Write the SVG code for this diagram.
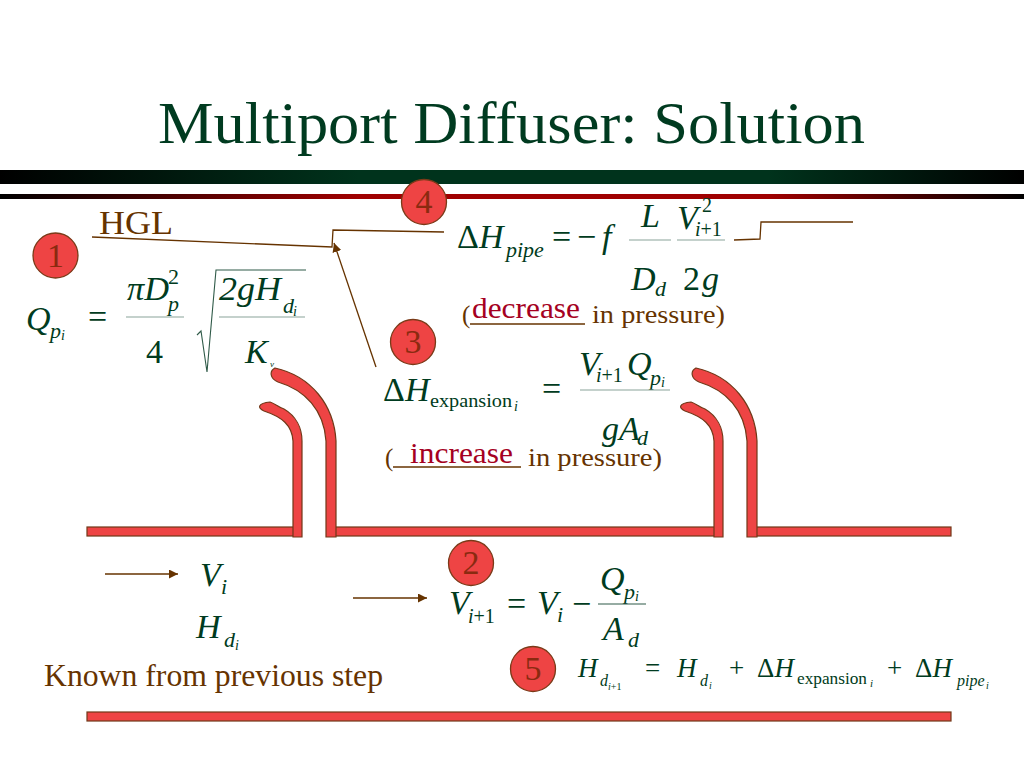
<svg xmlns="http://www.w3.org/2000/svg" width="1024" height="768" viewBox="0 0 1024 768">
<style>
text{font-family:"Liberation Serif","Times New Roman",serif}
.g{fill:#003b20}
.i{font-style:italic}
.u{font-style:normal}
.b{fill:#663300}
.r{fill:#a50021}
.n{fill:#8a2a10;font-size:34px;text-anchor:middle}
.c{fill:#ee4444;stroke:#7a3a18;stroke-width:1.3}
.p{fill:#ee4444;stroke:#703818;stroke-width:1.2}
.l{fill:none;stroke:#663300;stroke-width:1.3}
.f{stroke:#8aa49a;stroke-width:1.2;fill:none}
.s34{font-size:34px}.s22{font-size:22px}.s20{font-size:20px}.s19{font-size:19px}.s14{font-size:14px}.s27{font-size:27px}.s25{font-size:25px}
</style>
<defs>
<linearGradient id="gb" x1="0" x2="1" y1="0" y2="0"><stop offset="0" stop-color="#000"/><stop offset=".35" stop-color="#00331c"/><stop offset=".75" stop-color="#00331c"/><stop offset="1" stop-color="#000"/></linearGradient>
<linearGradient id="rb" x1="0" x2="1" y1="0" y2="0"><stop offset="0" stop-color="#000"/><stop offset=".35" stop-color="#a00000"/><stop offset=".75" stop-color="#a00000"/><stop offset="1" stop-color="#000"/></linearGradient>
<marker id="ah" markerUnits="userSpaceOnUse" markerWidth="11" markerHeight="10" refX="9" refY="4.500" orient="auto"><path d="M0 0L9 4.500L0 9Z" fill="#663300"/></marker>
<g id="port">
<path class="p" d="M293 537V441C292 425 282 417 264 411C257 408 258 403 270 402C276 404 278 407 284 409C296 416 302 428 302 441V537Z"/>
<path class="p" d="M326 537V441C324 410 305 390 278 382C270 379 269 371 275 368C311 376 334 405 336 441V537Z"/>
</g>
</defs>
<rect width="1024" height="768" fill="#fff"/>
<g id="title"><text x="158" y="143" font-size="60" class="g" textLength="707" lengthAdjust="spacingAndGlyphs">Multiport Diffuser: Solution</text></g>
<g id="bars"><rect x="0" y="170" width="1024" height="14" fill="url(#gb)"/><rect x="0" y="194" width="1024" height="5" fill="url(#rb)"/></g>
<g id="pipe">
<rect class="p" x="87" y="527" width="207" height="9"/>
<rect class="p" x="335" y="527" width="380" height="9"/>
<rect class="p" x="756" y="527" width="195" height="9"/>
<rect class="p" x="87" y="712" width="864" height="9"/>
<use href="#port"/>
<use href="#port" x="421"/>
</g>
<g id="connectors">
<path class="l" d="M92 237L332 247L333 230L444 232"/>
<path class="l" d="M734 240L760 239L761 222L853 222"/>
<path class="l" d="M376 367L334 243" marker-end="url(#ah)"/>
<path class="l" d="M105 574H178" marker-end="url(#ah)"/>
<path class="l" d="M353 598H427" marker-end="url(#ah)"/>
</g>
<g id="hgl"><text x="99" y="234" font-size="34" class="b" textLength="74" lengthAdjust="spacingAndGlyphs">HGL</text></g>
<g id="n1"><circle class="c" cx="55.500" cy="255.500" r="22.500"/><text class="n" x="55.500" y="267">1</text></g>
<g id="n4"><circle class="c" cx="424" cy="202" r="22.500"/><text class="n" x="424" y="213">4</text></g>
<g id="n3"><circle class="c" cx="413" cy="342" r="22.500"/><text class="n" x="413" y="353">3</text></g>
<g id="n2"><circle class="c" cx="471" cy="563" r="22.500"/><text class="n" x="471" y="574">2</text></g>
<g id="n5"><circle class="c" cx="533" cy="669" r="22.500"/><text class="n" x="533" y="680">5</text></g>
<g id="eq1" class="g">
<text class="i s34" x="26" y="330">Q</text><text class="i s22" x="50" y="338">p</text><text class="i s14" x="61" y="340">i</text>
<text class="s34" x="88" y="328">=</text>
<text class="i s34" x="127" y="300" textLength="42" lengthAdjust="spacingAndGlyphs">πD</text><text class="s22" x="168" y="284">2</text><text class="i s22" x="168" y="311">p</text>
<path class="f" d="M126 317H184M219 317H305"/>
<text class="s34" x="146" y="363">4</text>
<path d="M197 335L201 331L207 372L216 270H306" fill="none" stroke="#2f5a48" stroke-width="1.1"/>
<text class="i s34" x="219" y="300" textLength="62" lengthAdjust="spacingAndGlyphs">2gH</text><text class="i s22" x="283" y="313">d</text><text class="i s14" x="293" y="316">i</text>
<text class="i s34" x="245" y="363">K</text><text class="i" font-size="9" x="270" y="367">v</text>
</g>
<g id="eq4" class="g">
<text class="s34" x="457" y="248">Δ<tspan class="i">H</tspan></text><text class="i s22" x="506" y="257">pipe</text>
<text class="s34" x="552" y="248">=</text><text class="s34" x="577" y="248">−</text><text class="i s34" x="602" y="248">f</text>
<text class="i s34" x="641" y="227">L</text><text class="i s34" x="677" y="229">V</text><text class="s20" x="702" y="212">2</text><text class="i s20" x="695" y="236">i<tspan class="u">+1</tspan></text>
<path class="f" d="M629 240H671M677 240H725"/>
<text class="i s34" x="631" y="290">D</text><text class="i s22" x="655" y="296">d</text><text class="s34" x="683" y="290">2</text><text class="i s34" x="702" y="290">g</text>
</g>
<g id="dec">
<text class="b s25" x="462" y="323">(</text><text class="r" font-size="29" x="472" y="318" textLength="108" lengthAdjust="spacingAndGlyphs">decrease</text>
<path d="M470 324H585" stroke="#663300" stroke-width="1.3"/>
<text class="b" font-size="26" x="592" y="323" textLength="133" lengthAdjust="spacingAndGlyphs">in pressure)</text>
</g>
<g id="eq3" class="g">
<text class="s34" x="383" y="401">Δ<tspan class="i">H</tspan></text><text class="s19" x="430" y="407" textLength="82" lengthAdjust="spacingAndGlyphs">expansion</text><text class="i s14" x="514" y="411">i</text>
<text class="s34" x="542" y="400">=</text>
<text class="i s34" x="579" y="375">V</text><text class="i s20" x="596" y="382">i<tspan class="u">+1</tspan></text><text class="i s34" x="627" y="375">Q</text><text class="i s22" x="650" y="385">p</text><text class="i s14" x="661" y="387">i</text>
<path class="f" d="M580 390H670"/>
<text class="i s34" x="602" y="440">gA</text><text class="i s22" x="637" y="445">d</text>
</g>
<g id="inc">
<text class="b s25" x="385" y="466">(</text><text class="r" font-size="29" x="410" y="463" textLength="103" lengthAdjust="spacingAndGlyphs">increase</text>
<path d="M393 467H521" stroke="#663300" stroke-width="1.3"/>
<text class="b" font-size="26" x="528" y="466" textLength="134" lengthAdjust="spacingAndGlyphs">in pressure)</text>
</g>
<g id="known" class="g">
<text class="i s34" x="200" y="586">V</text><text class="i s22" x="221" y="594">i</text>
<text class="i s34" x="196" y="638">H</text><text class="i s22" x="224" y="647">d</text><text class="i s14" x="235" y="650">i</text>
<text class="b" font-size="31" x="44" y="686" textLength="339" lengthAdjust="spacingAndGlyphs">Known from previous step</text>
</g>
<g id="eq2" class="g">
<text class="i s34" x="449" y="614">V</text><text class="i s20" x="468" y="623">i<tspan class="u">+1</tspan></text>
<text class="s34" x="507" y="615">=</text><text class="i s34" x="537" y="614">V</text><text class="i s22" x="557" y="622">i</text><text class="s34" x="572" y="615">−</text>
<text class="i s34" x="600" y="590">Q</text><text class="i s22" x="624" y="599">p</text><text class="i s14" x="635" y="601">i</text>
<path d="M598 604H646" stroke="#2f5a48" stroke-width="1.2"/>
<text class="i s34" x="603" y="640">A</text><text class="i s22" x="628" y="647">d</text>
</g>
<g id="eq5" class="g">
<text class="i s27" x="578" y="677">H</text><text class="i" font-size="16" x="600" y="686">d</text><text class="i" font-size="10" x="608" y="690">i<tspan class="u">+1</tspan></text>
<text class="s27" x="645" y="677">=</text>
<text class="i s27" x="677" y="677">H</text><text class="i" font-size="16" x="700" y="686">d</text><text class="i" font-size="10" x="709" y="689">i</text>
<text class="s27" x="729" y="677">+</text>
<text class="s27" x="757" y="677">Δ<tspan class="i">H</tspan></text><text font-size="17" x="797" y="684" textLength="70" lengthAdjust="spacingAndGlyphs">expansion</text><text class="i" font-size="11" x="870" y="687">i</text>
<text class="s27" x="887" y="677">+</text>
<text class="s27" x="915" y="677">Δ<tspan class="i">H</tspan></text><text class="i" font-size="16" x="957" y="686">pipe</text><text class="i" font-size="10" x="986" y="689">i</text>
</g>
</svg>
